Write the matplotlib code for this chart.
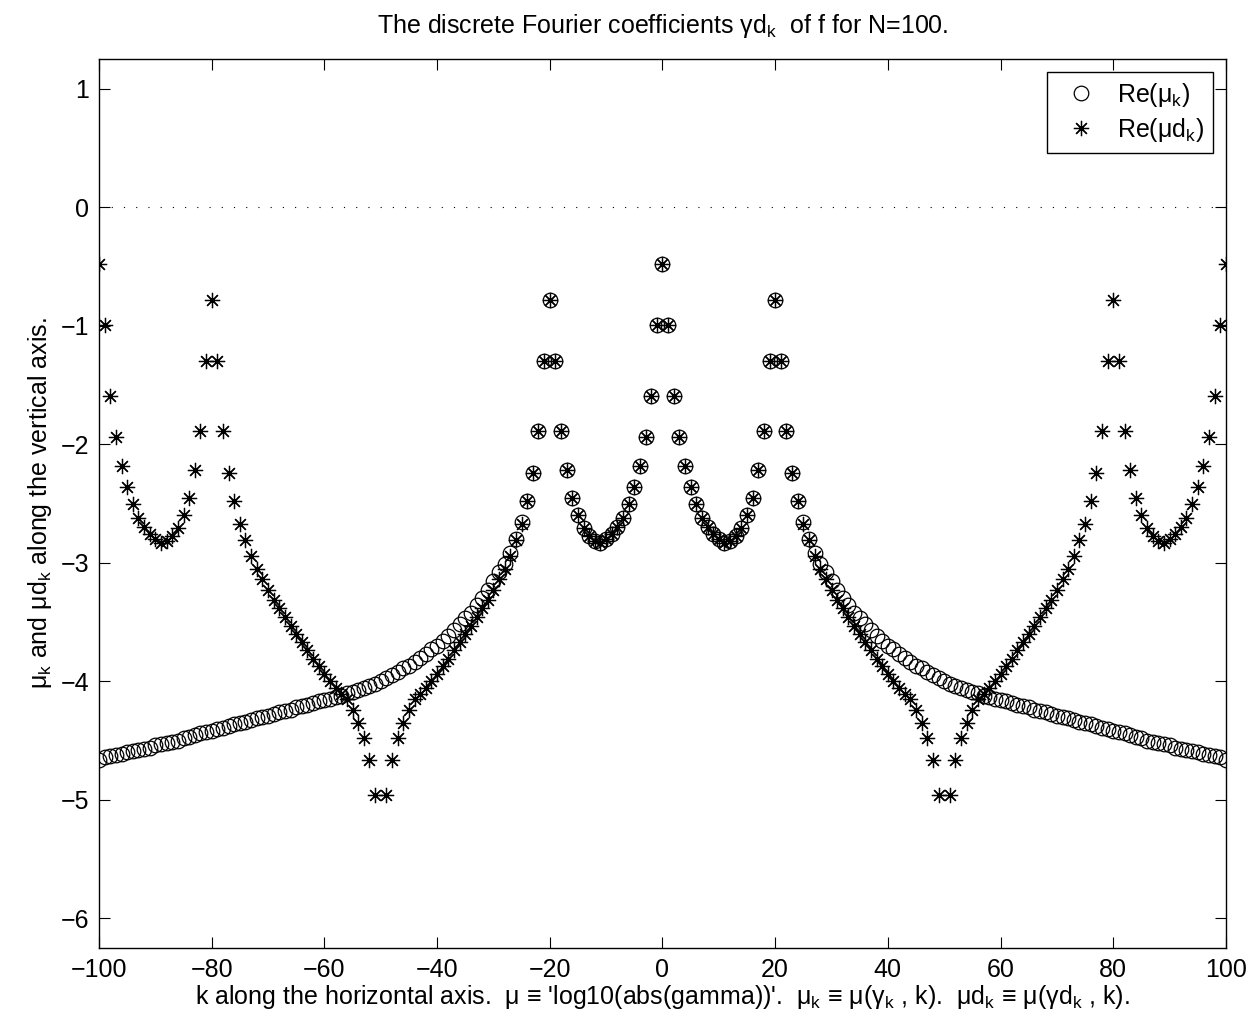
"""Discrete Fourier coefficients: mu_k vs mu d_k (log10|gamma|), N=100."""
import matplotlib
matplotlib.use("Agg")
import matplotlib.pyplot as plt
import numpy as np

plt.rcParams["font.family"] = ["Liberation Sans", "DejaVu Sans"]
plt.rcParams["mathtext.fontset"] = "custom"
plt.rcParams["mathtext.rm"] = "Liberation Sans"
plt.rcParams["mathtext.it"] = "Liberation Sans"
plt.rcParams["mathtext.default"] = "regular"

# ── data ──────────────────────────────────────────────────────────────
# mu_k for k = 0..100 ; the curve is even in k
mu_half = [
    -0.478, -0.99, -1.59, -1.94, -2.18, -2.365, -2.505, -2.62, -2.70, -2.76,
    -2.80, -2.83, -2.815, -2.77, -2.71, -2.60, -2.45, -2.22, -1.89, -1.295,
    -0.78, -1.295, -1.89, -2.24, -2.48, -2.66, -2.80, -2.92, -3.01, -3.08,
    -3.15, -3.23, -3.30, -3.36, -3.42, -3.47, -3.52, -3.57, -3.62, -3.66,
    -3.70, -3.73, -3.77, -3.80, -3.84, -3.87, -3.89, -3.92, -3.95, -3.97,
    -4.00, -4.02, -4.04, -4.06, -4.07, -4.09, -4.10, -4.12, -4.13, -4.15,
    -4.16, -4.17, -4.18, -4.20, -4.21, -4.22, -4.24, -4.25, -4.26, -4.28,
    -4.29, -4.30, -4.31, -4.33, -4.34, -4.35, -4.36, -4.38, -4.39, -4.40,
    -4.42, -4.43, -4.44, -4.45, -4.47, -4.48, -4.50, -4.51, -4.52, -4.53,
    -4.54, -4.56, -4.57, -4.58, -4.59, -4.60, -4.61, -4.62, -4.63, -4.64,
    -4.66,
]
# mu d_k for k = 0..50 ; even in k and mirrored about k=50 (k=50 off-scale)
mud_half = [
    -0.478, -0.99, -1.59, -1.94, -2.18, -2.365, -2.505, -2.62, -2.70, -2.76,
    -2.80, -2.83, -2.815, -2.77, -2.71, -2.60, -2.45, -2.22, -1.89, -1.295,
    -0.78, -1.295, -1.89, -2.24, -2.48, -2.67, -2.81, -2.94, -3.05, -3.14,
    -3.23, -3.31, -3.38, -3.46, -3.53, -3.60, -3.67, -3.74, -3.81, -3.87,
    -3.94, -4.00, -4.06, -4.11, -4.15, -4.245, -4.35, -4.48, -4.66, -4.96,
    np.nan,
]

x_ticks = [-100, -80, -60, -40, -20, 0, 20, 40, 60, 80, 100]
y_ticks = [-6, -5, -4, -3, -2, -1, 0, 1]

k = np.arange(-100, 101)
mu_pos = np.asarray(mu_half)
mu = np.concatenate([mu_pos[:0:-1], mu_pos])
mud_pos = np.concatenate([mud_half, mud_half[-2::-1]])   # k = 0..100
mud = np.concatenate([mud_pos[:0:-1], mud_pos])

FS = 18

# ── figure ────────────────────────────────────────────────────────────
fig = plt.figure(figsize=(12.53, 10.24), dpi=100)
ax = fig.add_axes([0.0790, 0.0742, 0.8994, 0.8682])

ax.plot(k, mu, "o", ls="none", mfc="none", mec="k", ms=10.5, mew=0.9,
        label="Re(μ$_k$)")
ax.plot(k, mud, marker=(8, 2, 0), ls="none", color="k", ms=11, mew=0.9,
        label="Re(μd$_k$)")
ax.axhline(0, color="k", lw=0.8, ls=(0, (1, 10)))

ax.set_xlim(-100, 100)
ax.set_ylim(-6.25, 1.25)
ax.set_xticks(x_ticks)
ax.set_yticks(y_ticks)
ax.tick_params(direction="in", length=8, width=0.8, labelsize=FS,
               top=True, right=True)
ax.tick_params(axis="x", pad=7)
ax.tick_params(axis="y", pad=7)
for s in ax.spines.values():
    s.set_linewidth(1.0)

ax.set_title("The discrete Fourier coefficients γd$_k$  of f for N=100.",
             fontsize=FS, pad=19)
ax.set_xlabel("k along the horizontal axis.  μ ≡ 'log10(abs(gamma))'.  "
              "μ$_k$ ≡ μ(γ$_k$ , k).  μd$_k$ ≡ μ(γd$_k$ , k).",
              fontsize=FS, labelpad=1)
ax.set_ylabel("μ$_k$ and μd$_k$ along the vertical axis.", fontsize=FS,
              labelpad=5)

leg = ax.legend(loc="upper right", fontsize=FS, frameon=True, fancybox=False,
                edgecolor="k", framealpha=1, borderaxespad=0.52,
                handletextpad=0.45, labelspacing=0.3, borderpad=0.35,
                handlelength=2.0)
leg.get_frame().set_linewidth(1.0)

fig.savefig("out.png", dpi=100)
plt.close(fig)
